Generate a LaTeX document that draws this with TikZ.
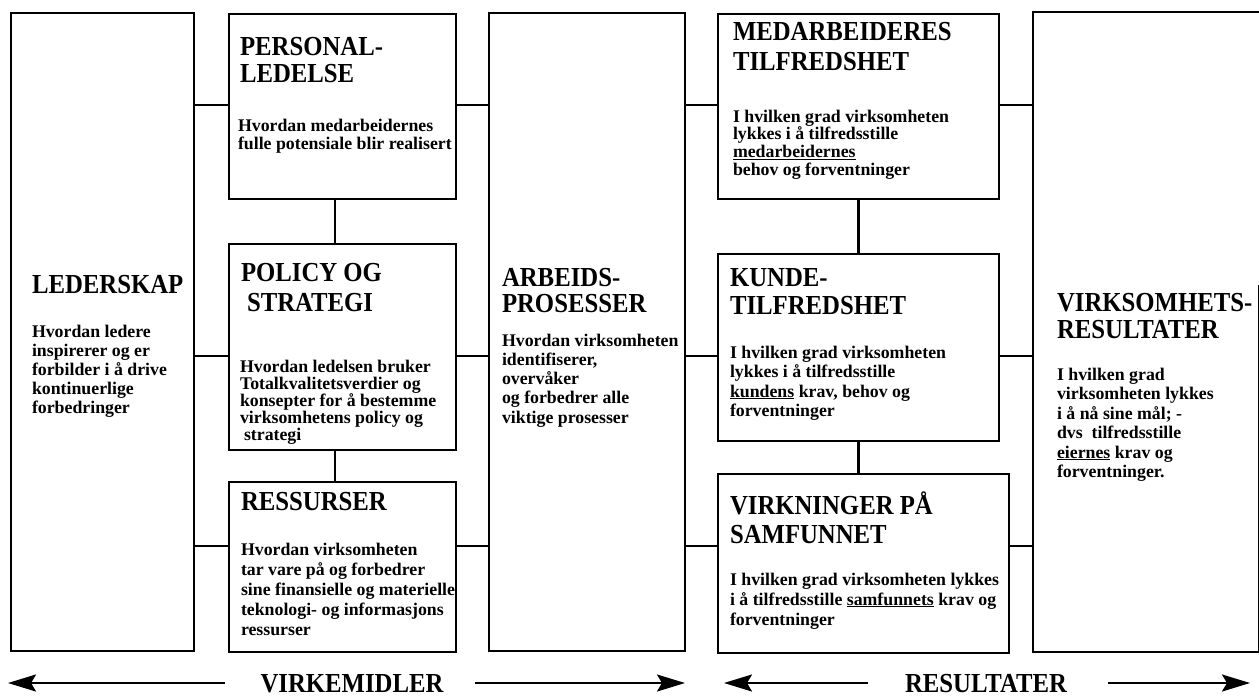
\documentclass[tikz,border=0pt]{standalone}
\usepackage{fontspec}
\setmainfont{Liberation Serif}
\newfontfamily\headfont[FakeStretch=0.9]{Liberation Serif}
\usetikzlibrary{arrows.meta}

% heading and body text faces; the argument is the line spacing
\newcommand\hd[1]{\headfont\bfseries\fontsize{27.5pt}{#1}\selectfont}
\newcommand\bd[1]{\bfseries\fontsize{17.8pt}{#1}\selectfont}
\newcommand\ul[1]{\underline{#1}}
\newcommand\tb[2]{\parbox[t]{320pt}{#1#2}}

\tikzset{
  frame/.style={draw, line width=1.7pt, rectangle, inner sep=0pt, anchor=north west},
  link/.style={line width=2.8pt},
  txt/.style={anchor=base west, inner sep=0pt, outer sep=0pt},
  band/.style={line width=2.4pt, -{Stealth[length=28pt,width=17pt,inset=5pt]}},
  bandlabel/.style={anchor=base, inner sep=0pt, font=\hd{28pt}}
}

\begin{document}
\begin{tikzpicture}[x=1pt, y=-1pt]
\useasboundingbox (0,0) rectangle (1259,696);

% ---- boxes ----
\node[frame, minimum width=183pt, minimum height=638pt] (lead) at (10,12) {};
\node[frame, minimum width=227pt, minimum height=185pt] (pers) at (228,13) {};
\node[frame, minimum width=227pt, minimum height=206pt] (pol)  at (228,243) {};
\node[frame, minimum width=227pt, minimum height=170pt] (res)  at (228,481) {};
\node[frame, minimum width=196pt, minimum height=638pt] (proc) at (488,12) {};
\node[frame, minimum width=281pt, minimum height=185pt] (emp)  at (717,13) {};
\node[frame, minimum width=281pt, minimum height=187pt] (cust) at (717,253) {};
\node[frame, minimum width=291pt, minimum height=179pt] (soc)  at (717,473) {};
% right-hand column: its right side only shows from the heading down
\node[frame, draw=none, minimum width=224pt, minimum height=638pt] (kpi) at (1033,12) {};
\draw[line width=1.7pt] (kpi.north east) -- (kpi.north west) -- (kpi.south west) -- (kpi.south east);
\draw[line width=1pt] (kpi.south east) -- (kpi.east |- 0,285);

% ---- row and column guides for the connectors ----
\coordinate (r1) at (0,105);
\coordinate (r2) at (0,356);
\coordinate (r3) at (0,546);
\coordinate (c1) at (335,0);

% ---- horizontal connectors ----
\foreach \l/\r/\row in {lead/pers/r1, lead/pol/r2, lead/res/r3,
                        pers/proc/r1, pol/proc/r2, res/proc/r3,
                        proc/emp/r1, proc/cust/r2, proc/soc/r3,
                        emp/kpi/r1, cust/kpi/r2, soc/kpi/r3}
  \draw[link] (\l.east |- \row) -- (\r.west |- \row);

% ---- vertical connectors ----
\draw[link] (pers.south -| c1) -- (pol.north -| c1);
\draw[link] (pol.south -| c1) -- (res.north -| c1);
\draw[link] (emp.south) -- (cust.north);
\draw[link] (cust.south) -- (cust.south |- soc.north);

% ---- texts ----
\node[txt] (leadT) at (32,293) {\tb{\hd{27pt}}{LEDERSKAP}};
\node[txt] (leadB) at (32,337) {\tb{\bd{19.2pt}}{Hvordan ledere\\inspirerer og er\\forbilder i å drive\\kontinuerlige\\forbedringer}};

\node[txt] (persT) at (240,55) {\tb{\hd{27pt}}{PERSONAL-\\LEDELSE}};
\node[txt] (persB) at (238,131) {\tb{\bd{18.3pt}}{Hvordan medarbeidernes\\fulle potensiale blir realisert}};

\node[txt] (polT) at (241,281) {\tb{\hd{30pt}}{POLICY OG\\\hspace*{6pt}STRATEGI}};
\node[txt] (polB) at (240,372) {\tb{\bd{17pt}}{Hvordan ledelsen bruker\\Totalkvalitetsverdier og\\konsepter for å bestemme\\virksomhetens policy og\\\hspace*{4pt}strategi}};

\node[txt] (resT) at (241,510) {\tb{\hd{27pt}}{RESSURSER}};
\node[txt] (resB) at (241,555) {\tb{\bd{20pt}}{Hvordan virksomheten\\tar vare på og forbedrer\\sine finansielle og materielle\\teknologi- og informasjons\\ressurser}};

\node[txt] (procT) at (502,286) {\tb{\hd{26pt}}{ARBEIDS-\\PROSESSER}};
\node[txt] (procB) at (502,346) {\tb{\bd{19.3pt}}{Hvordan virksomheten\\identifiserer,\\overvåker\\og forbedrer alle\\viktige prosesser}};

\node[txt] (empT) at (733,40) {\tb{\hd{30pt}}{MEDARBEIDERES\\TILFREDSHET}};
\node[txt] (empB) at (733,122) {\tb{\bd{17.7pt}}{I hvilken grad virksomheten\\lykkes i å tilfredsstille\\\ul{medarbeidernes}\\behov og forventninger}};

\node[txt] (custT) at (730,286) {\tb{\hd{28pt}}{KUNDE-\\TILFREDSHET}};
\node[txt] (custB) at (730,358) {\tb{\bd{19.5pt}}{I hvilken grad virksomheten\\lykkes i å tilfredsstille\\\ul{kundens} krav, behov og\\forventninger}};

\node[txt] (socT) at (730,514) {\tb{\hd{29pt}}{VIRKNINGER PÅ\\SAMFUNNET}};
\node[txt] (socB) at (730,585) {\tb{\bd{20pt}}{I hvilken grad virksomheten lykkes\\i å tilfredsstille \ul{samfunnets} krav og\\forventninger}};

\node[txt] (kpiT) at (1057,311) {\tb{\hd{27pt}}{VIRKSOMHETS-\\RESULTATER}};
\node[txt] (kpiB) at (1057,380) {\tb{\bd{19.5pt}}{I hvilken grad\\virksomheten lykkes\\i å nå sine mål; -\\dvs\ \ tilfredsstille\\\ul{eiernes} krav og\\forventninger.}};

% ---- bottom bands ----
\node[bandlabel] (means) at (352,692) {VIRKEMIDLER};
\node[bandlabel] (results) at (986,692) {RESULTATER};
\coordinate (meansL0) at (225,683);
\coordinate (meansL1) at (8,683);
\coordinate (meansR0) at (475,683);
\coordinate (meansR1) at (685,683);
\coordinate (resL0) at (868,683);
\coordinate (resL1) at (724,683);
\coordinate (resR0) at (1108,683);
\coordinate (resR1) at (1250,683);
\draw[band] (meansL0) -- (meansL1);
\draw[band] (meansR0) -- (meansR1);
\draw[band] (resL0) -- (resL1);
\draw[band] (resR0) -- (resR1);
\end{tikzpicture}
\end{document}
